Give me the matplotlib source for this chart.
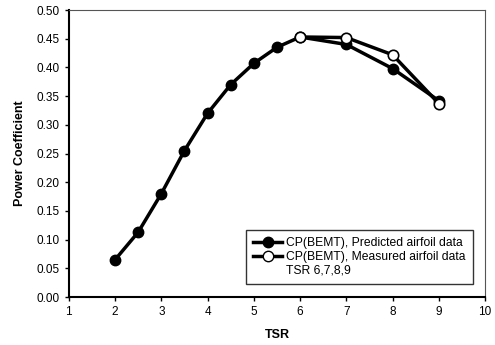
import matplotlib
matplotlib.use("Agg")
import matplotlib.pyplot as plt
from matplotlib.lines import Line2D

plt.rcParams['font.family'] = ['Liberation Sans', 'DejaVu Sans']

# predicted airfoil data
tsr_pred = [2, 2.5, 3, 3.5, 4, 4.5, 5, 5.5, 6, 7, 8, 9]
cp_pred = [0.065, 0.113, 0.180, 0.255, 0.320, 0.370, 0.407, 0.435, 0.453, 0.440, 0.398, 0.342]

# measured airfoil data, TSR 6..9
tsr_meas = [6, 7, 8, 9]
cp_meas = [0.453, 0.452, 0.422, 0.337]

fig = plt.figure(figsize=(4.95, 3.45), dpi=100)
ax = fig.add_axes([0.139, 0.139, 0.841, 0.832])

ax.plot(tsr_pred, cp_pred, 'k-', marker='o', markersize=7.5, linewidth=2.5,
        markerfacecolor='black', markeredgecolor='black')
ax.plot(tsr_meas, cp_meas, 'k-', marker='o', markersize=7.5, linewidth=2.5,
        markerfacecolor='white', markeredgecolor='black', markeredgewidth=1.2)

ax.set_xlim(1, 10)
ax.set_ylim(0, 0.5)
ax.set_xticks(range(1, 11))
ax.set_yticks([i * 0.05 for i in range(11)])
ax.yaxis.set_major_formatter(plt.FormatStrFormatter('%.2f'))
ax.tick_params(direction='out', length=3, labelsize=8.5, width=1)

for s in ['left', 'bottom']:
    ax.spines[s].set_linewidth(1.5)
for s in ['top', 'right']:
    ax.spines[s].set_linewidth(0.8)
    ax.spines[s].set_color('#555555')

ax.set_xlabel('TSR', fontsize=9, fontweight='bold', labelpad=8)
ax.set_ylabel('Power Coefficient', fontsize=9, fontweight='bold', labelpad=8)

h1 = Line2D([], [], color='black', marker='o', markersize=7.5, linewidth=2.5,
            markerfacecolor='black')
h2 = Line2D([], [], color='black', marker='o', markersize=7.5, linewidth=2.5,
            markerfacecolor='white')
h3 = Line2D([], [], color='none')
leg = ax.legend([h1, h2, h3],
                ['CP(BEMT), Predicted airfoil data',
                 'CP(BEMT), Measured airfoil data',
                 'TSR 6,7,8,9'],
                loc='lower right', bbox_to_anchor=(0.985, 0.025), fontsize=8.7,
                frameon=True, fancybox=False, edgecolor='black',
                handlelength=2.4, handletextpad=0.3, labelspacing=0.15,
                borderpad=0.6)
leg.get_frame().set_linewidth(1.0)
leg.legend_handles[2].set_visible(False)
fig.savefig('out.png', dpi=100)
